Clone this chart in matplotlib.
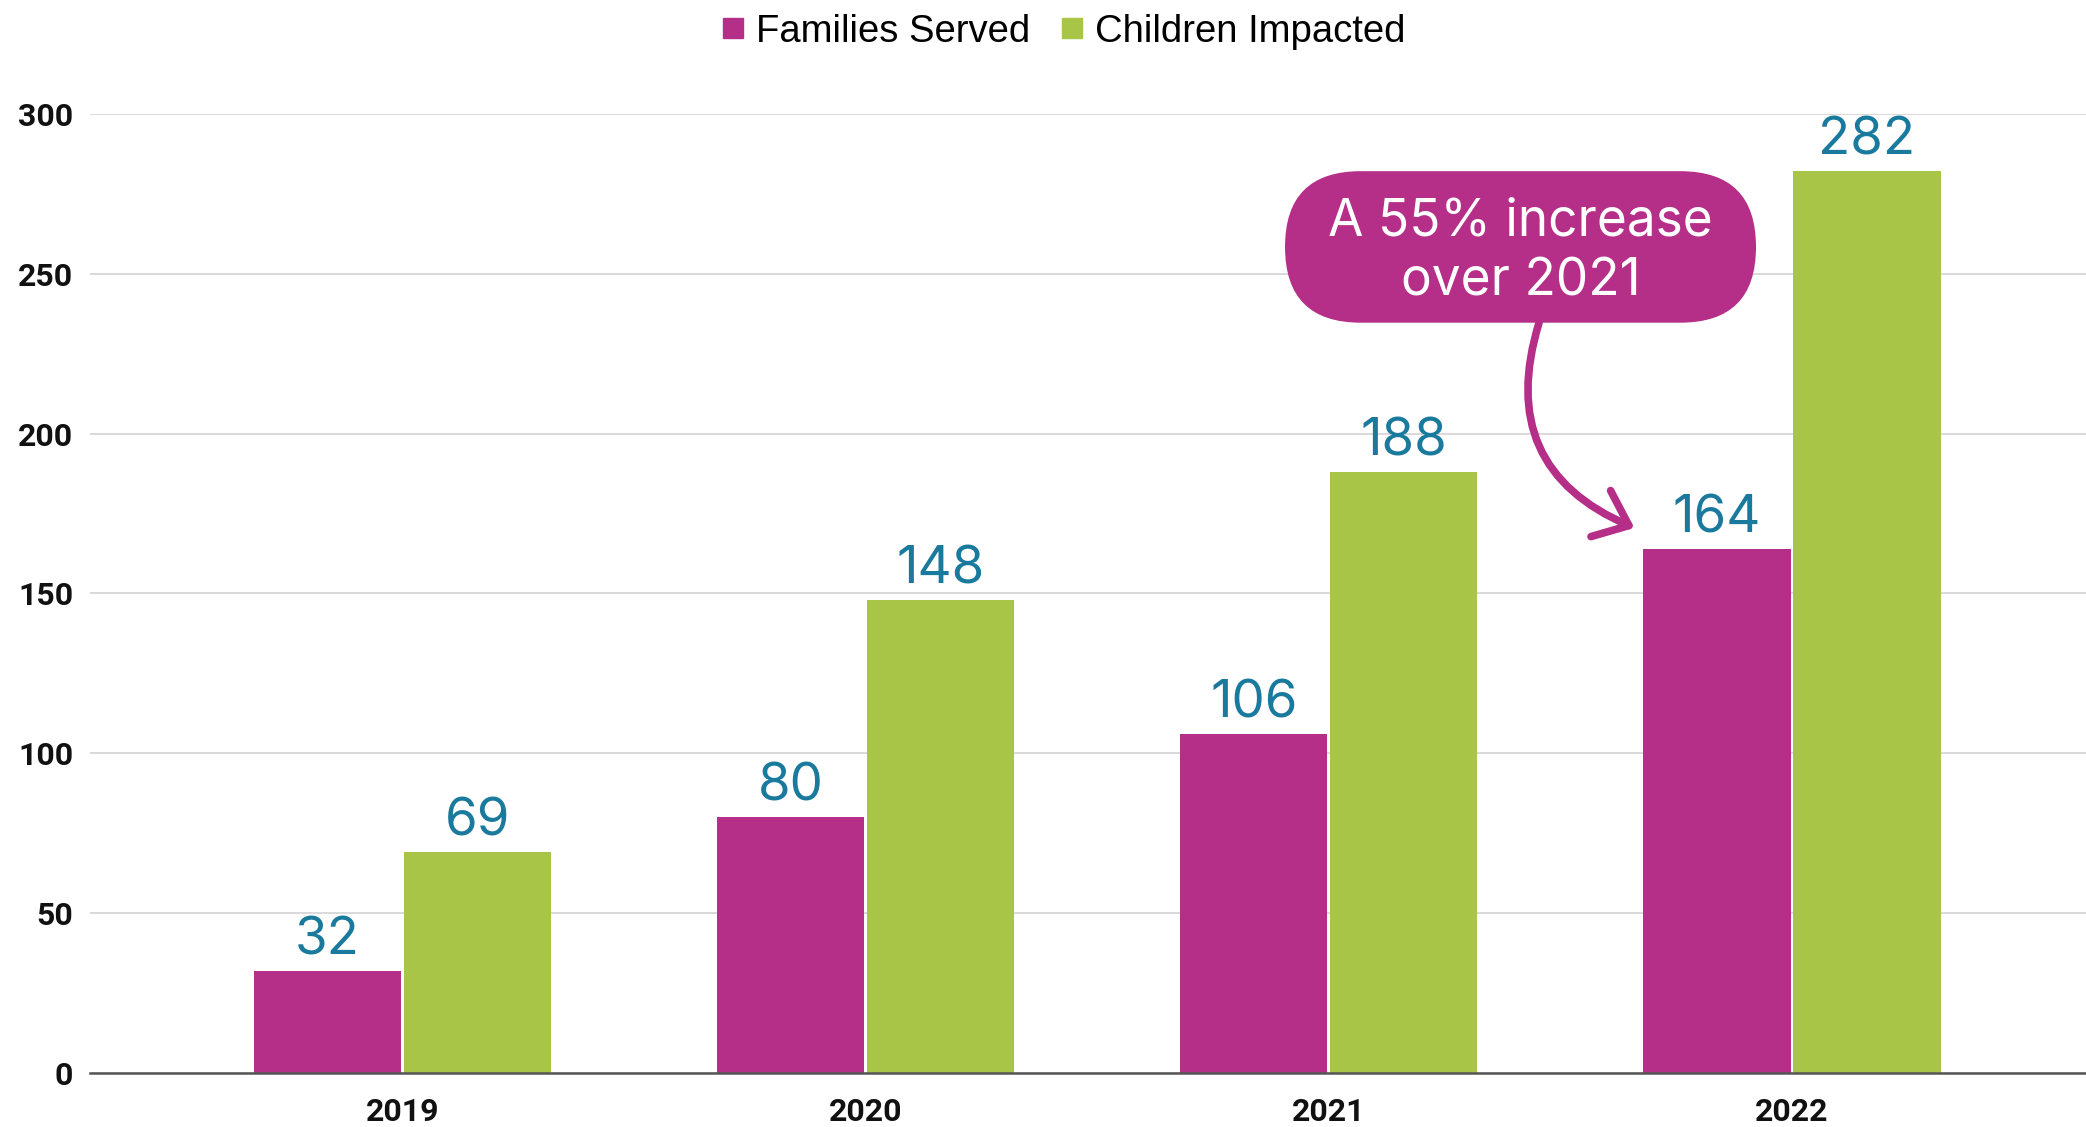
import numpy as np
import matplotlib
matplotlib.use("Agg")
import matplotlib.pyplot as plt
from matplotlib.patches import FancyBboxPatch, FancyArrowPatch
from matplotlib.lines import Line2D

# data
years = ["2019", "2020", "2021", "2022"]
families = [32, 80, 106, 164]
children = [69, 148, 188, 282]
series_names = ["Families Served", "Children Impacted"]
callout_text = "A 55% increase\nover 2021"

purple = "#B52E88"
green = "#A8C548"
label_blue = "#1A7A9E"

fig = plt.figure(figsize=(20.86, 11.27), dpi=100)
ax = fig.add_axes([0.0431, 0.0479, 0.9569, 0.851])

x = np.arange(len(years))
w = 0.318
gap = 0.003
b1 = ax.bar(x - w / 2 - gap, families, w, color=purple, zorder=3)
b2 = ax.bar(x + w / 2 + gap, children, w, color=green, zorder=3)

# value labels above each bar
for bars, vals in [(b1, families), (b2, children)]:
    for r, v in zip(bars, vals):
        ax.annotate(str(v), (r.get_x() + r.get_width() / 2, v),
                    xytext=(0, 12), textcoords="offset points",
                    ha="center", va="baseline", fontsize=38,
                    family="Inter", color=label_blue, clip_on=False)

ax.set_xlim(-0.675, 3.635)
ax.set_ylim(0, 300)
ax.set_yticks([0, 50, 100, 150, 200, 250, 300])
ax.set_xticks(x)
ax.set_xticklabels(years)
ax.tick_params(axis="both", length=0, labelsize=23)
ax.tick_params(axis="x", pad=17)
ax.tick_params(axis="y", pad=12)
for lab in ax.get_xticklabels() + ax.get_yticklabels():
    lab.set_fontweight("bold")
    lab.set_family("Roboto")
    lab.set_color("#111111")

ax.grid(axis="y", color="#d9d9d9", linewidth=1.4, zorder=0)
for s in ["top", "right", "left"]:
    ax.spines[s].set_visible(False)
ax.spines["bottom"].set_color("#555555")
ax.spines["bottom"].set_linewidth(1.8)
ax.spines["bottom"].set_zorder(4)

# callout box with pill shape
fig.canvas.draw()
p0 = ax.transData.transform((0, 0))
p1 = ax.transData.transform((1, 1))
aspect = (p1[0] - p0[0]) / (p1[1] - p0[1])
bx, by, bw, bh = 2.414, 258.4, 1.017, 47.4
r = bh / 2 / aspect
box = FancyBboxPatch((bx - bw / 2, by - bh / 2), bw, bh,
                     boxstyle=f"round,pad=0,rounding_size={r}",
                     mutation_aspect=aspect, facecolor=purple,
                     edgecolor="none", zorder=5, clip_on=False)
ax.add_patch(box)
ax.text(bx, by - 1.5, callout_text, ha="center", va="center", fontsize=37,
        family="Inter", color="white", linespacing=1.3, zorder=6)

arrow = FancyArrowPatch((2.454, by - bh / 2), (2.66, 170.5),
                        connectionstyle="arc3,rad=0.45",
                        arrowstyle="->,head_length=0.55,head_width=0.45",
                        mutation_scale=40,
                        color=purple, linewidth=5.5, zorder=6,
                        shrinkA=0, shrinkB=0, capstyle="round")
ax.add_patch(arrow)

handles = [Line2D([], [], marker="s", linestyle="none", markersize=15,
                  color=c) for c in (purple, green)]
fig.legend(handles, series_names, loc="center", bbox_to_anchor=(0.509, 0.972),
           ncol=2, frameon=False, prop={"family": "Liberation Sans", "size": 27.5},
           handletextpad=0.2, columnspacing=0.7, handlelength=0.8)

fig.savefig("out.png", dpi=100, facecolor="white")
